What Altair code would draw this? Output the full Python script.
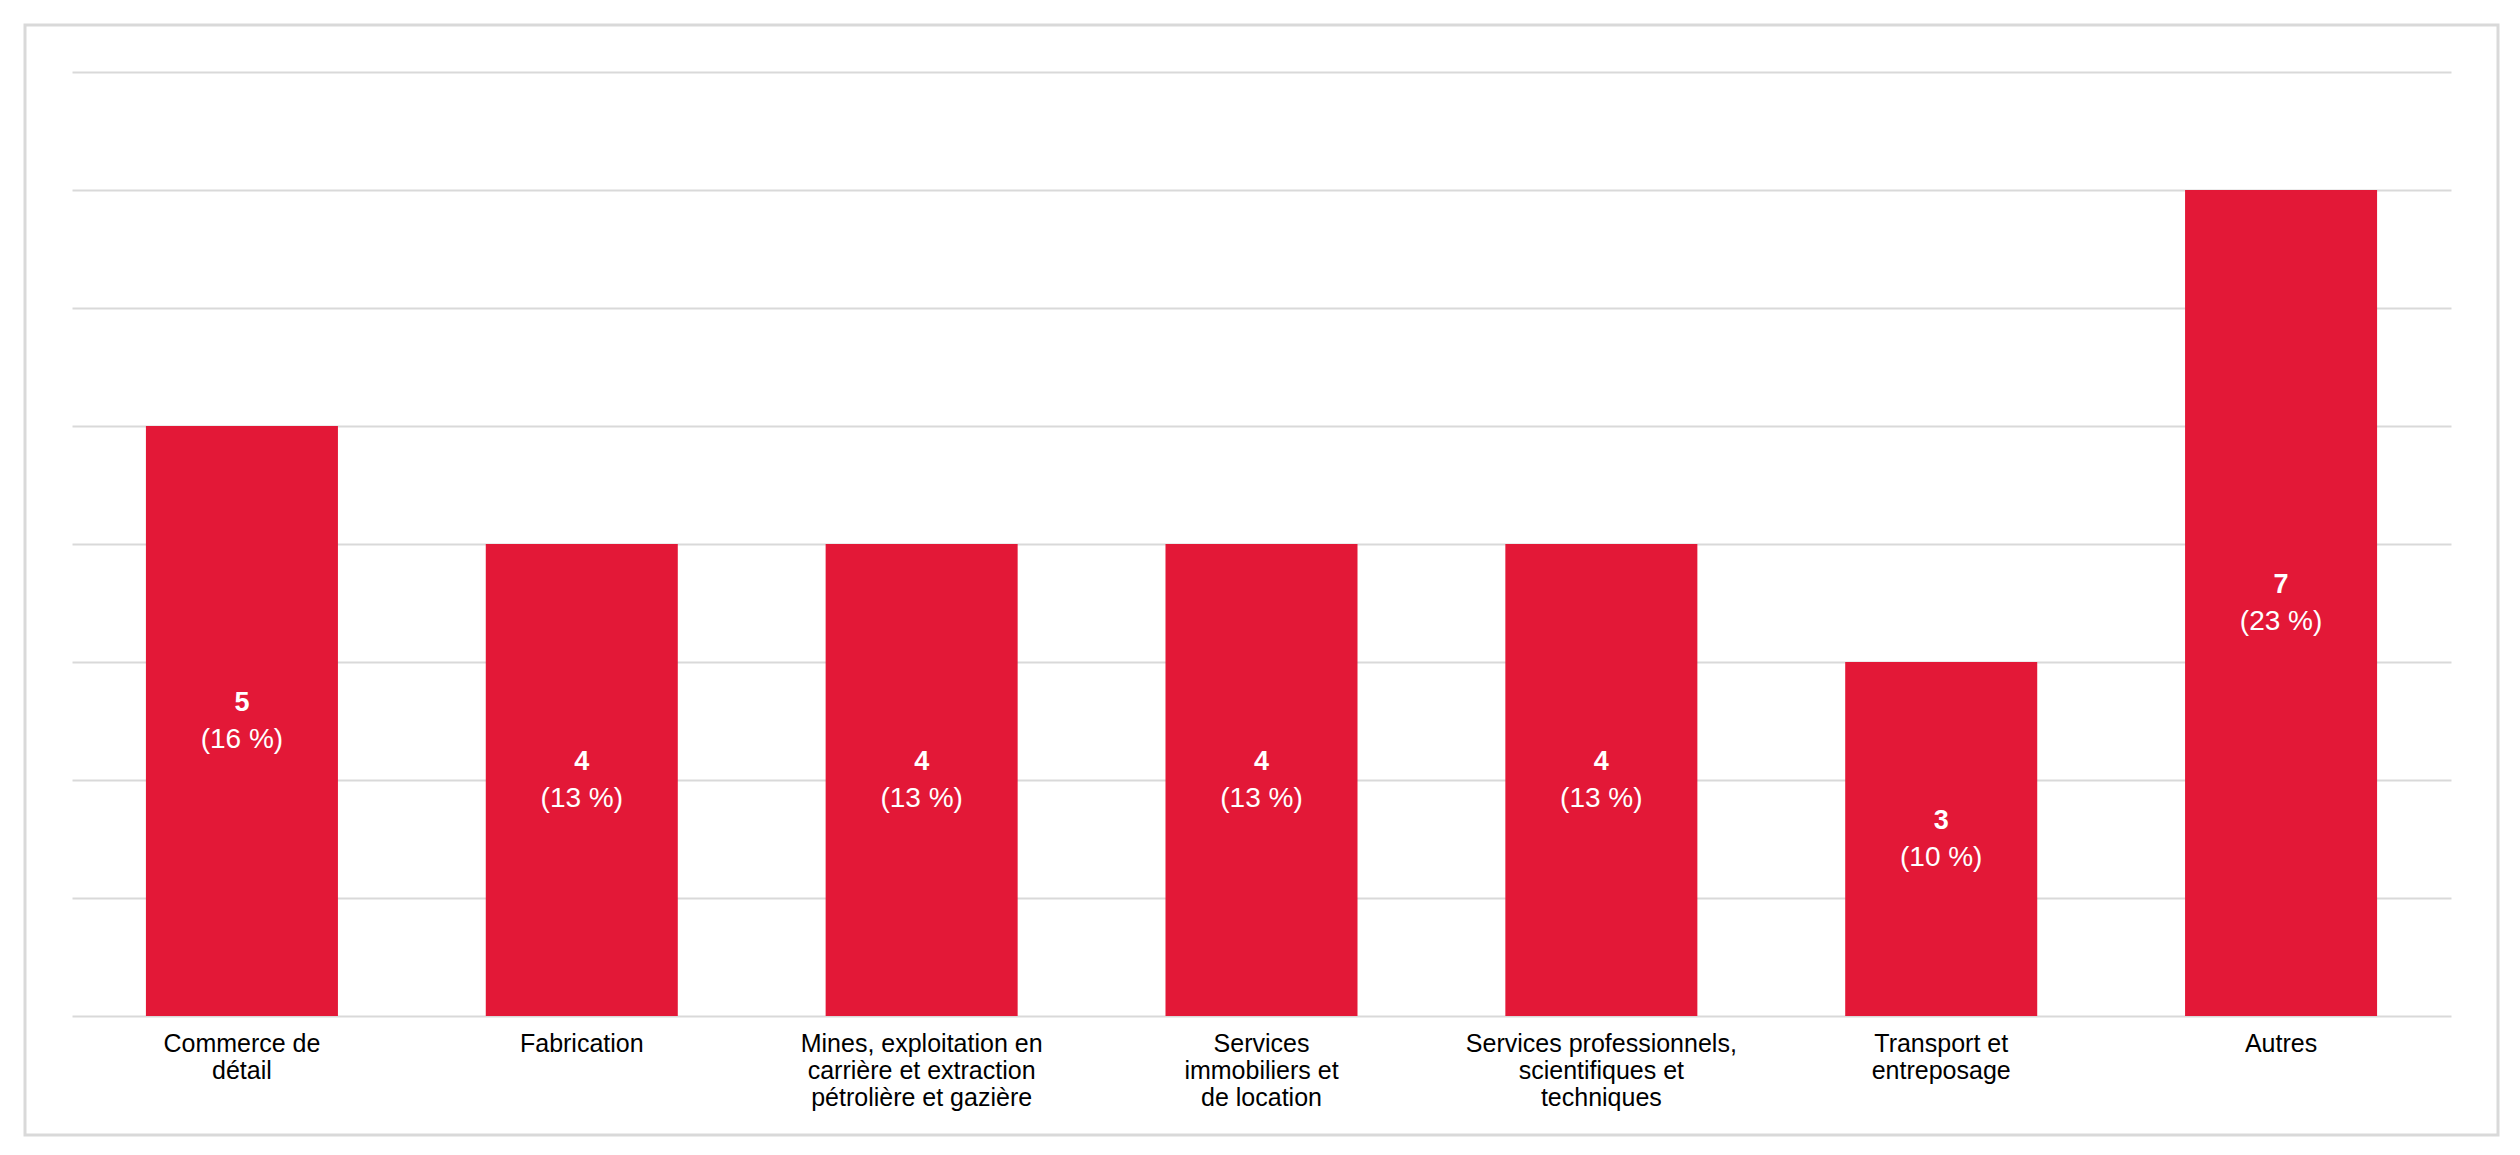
import altair as alt
import pandas as pd

categories = [
    "Commerce de détail",
    "Fabrication",
    "Mines, exploitation en carrière et extraction pétrolière et gazière",
    "Services immobiliers et de location",
    "Services professionnels, scientifiques et techniques",
    "Transport et entreposage",
    "Autres",
]
label_lines = [
    ["Commerce de", "détail"],
    ["Fabrication"],
    ["Mines, exploitation en", "carrière et extraction", "pétrolière et gazière"],
    ["Services", "immobiliers et", "de location"],
    ["Services professionnels,", "scientifiques et", "techniques"],
    ["Transport et", "entreposage"],
    ["Autres"],
]
counts = [5, 4, 4, 4, 4, 3, 7]
percents = [16, 13, 13, 13, 13, 10, 23]
y_ticks = [0, 1, 2, 3, 4, 5, 6, 7, 8]

labels_joined = ["|".join(l) for l in label_lines]
df = pd.DataFrame({
    "category": categories,
    "label": labels_joined,
    "count": counts,
    "pct": [f"({p} %)" for p in percents],
})

FONT = "Liberation Sans"
RED = "#E31837"
GRID = "#D9D9D9"

x_enc = alt.X(
    "label:N",
    sort=labels_joined,
    scale=alt.Scale(paddingInner=0.435, paddingOuter=0.2175),
    axis=alt.Axis(
        title=None,
        labelExpr="split(datum.label, '|')",
        labelAngle=0,
        labelFontSize=25,
        labelLineHeight=27,
        labelPadding=15,
        labelFont=FONT,
        labelColor="#000000",
        labelLimit=500,
        labelOverlap=False,
        ticks=False,
        domain=False,
        grid=False,
    ),
)

y_scale = alt.Scale(domain=[0, 8], nice=False)
y_axis = alt.Axis(
    title=None,
    labels=False,
    ticks=False,
    domain=False,
    values=y_ticks,
    grid=True,
    gridColor=GRID,
    gridWidth=2,
)

base = alt.Chart(df)

bars = base.mark_bar(color=RED).encode(
    x=x_enc,
    y=alt.Y("count:Q", scale=y_scale, axis=y_axis),
)

mid = base.transform_calculate(mid="datum.count / 2")

value_text = mid.mark_text(
    color="white", font=FONT, fontSize=27, fontWeight="bold",
    baseline="middle", align="center", dy=-18,
).encode(x=x_enc, y=alt.Y("mid:Q", scale=y_scale, axis=y_axis), text="count:Q")

pct_text = mid.mark_text(
    color="white", font=FONT, fontSize=28,
    baseline="middle", align="center", dy=19,
).encode(x=x_enc, y=alt.Y("mid:Q", scale=y_scale, axis=y_axis), text="pct:N")

frame = alt.Chart(pd.DataFrame({"f": [0]})).mark_rect(
    fill="white", fillOpacity=0, stroke=GRID, strokeWidth=3
).encode(
    x=alt.value(-47), x2=alt.value(2426), y=alt.value(-47), y2=alt.value(1063)
)

chart = alt.layer(frame, bars, value_text, pct_text).properties(
    width=2379,
    height=944,
    background="white",
    autosize=alt.AutoSizeParams(type="none"),
    padding={"left": 64, "top": 64, "right": 50, "bottom": 125},
).configure_view(strokeWidth=0, stroke="transparent")

chart.save("out.html", embed_options={"renderer": "svg", "actions": False})
